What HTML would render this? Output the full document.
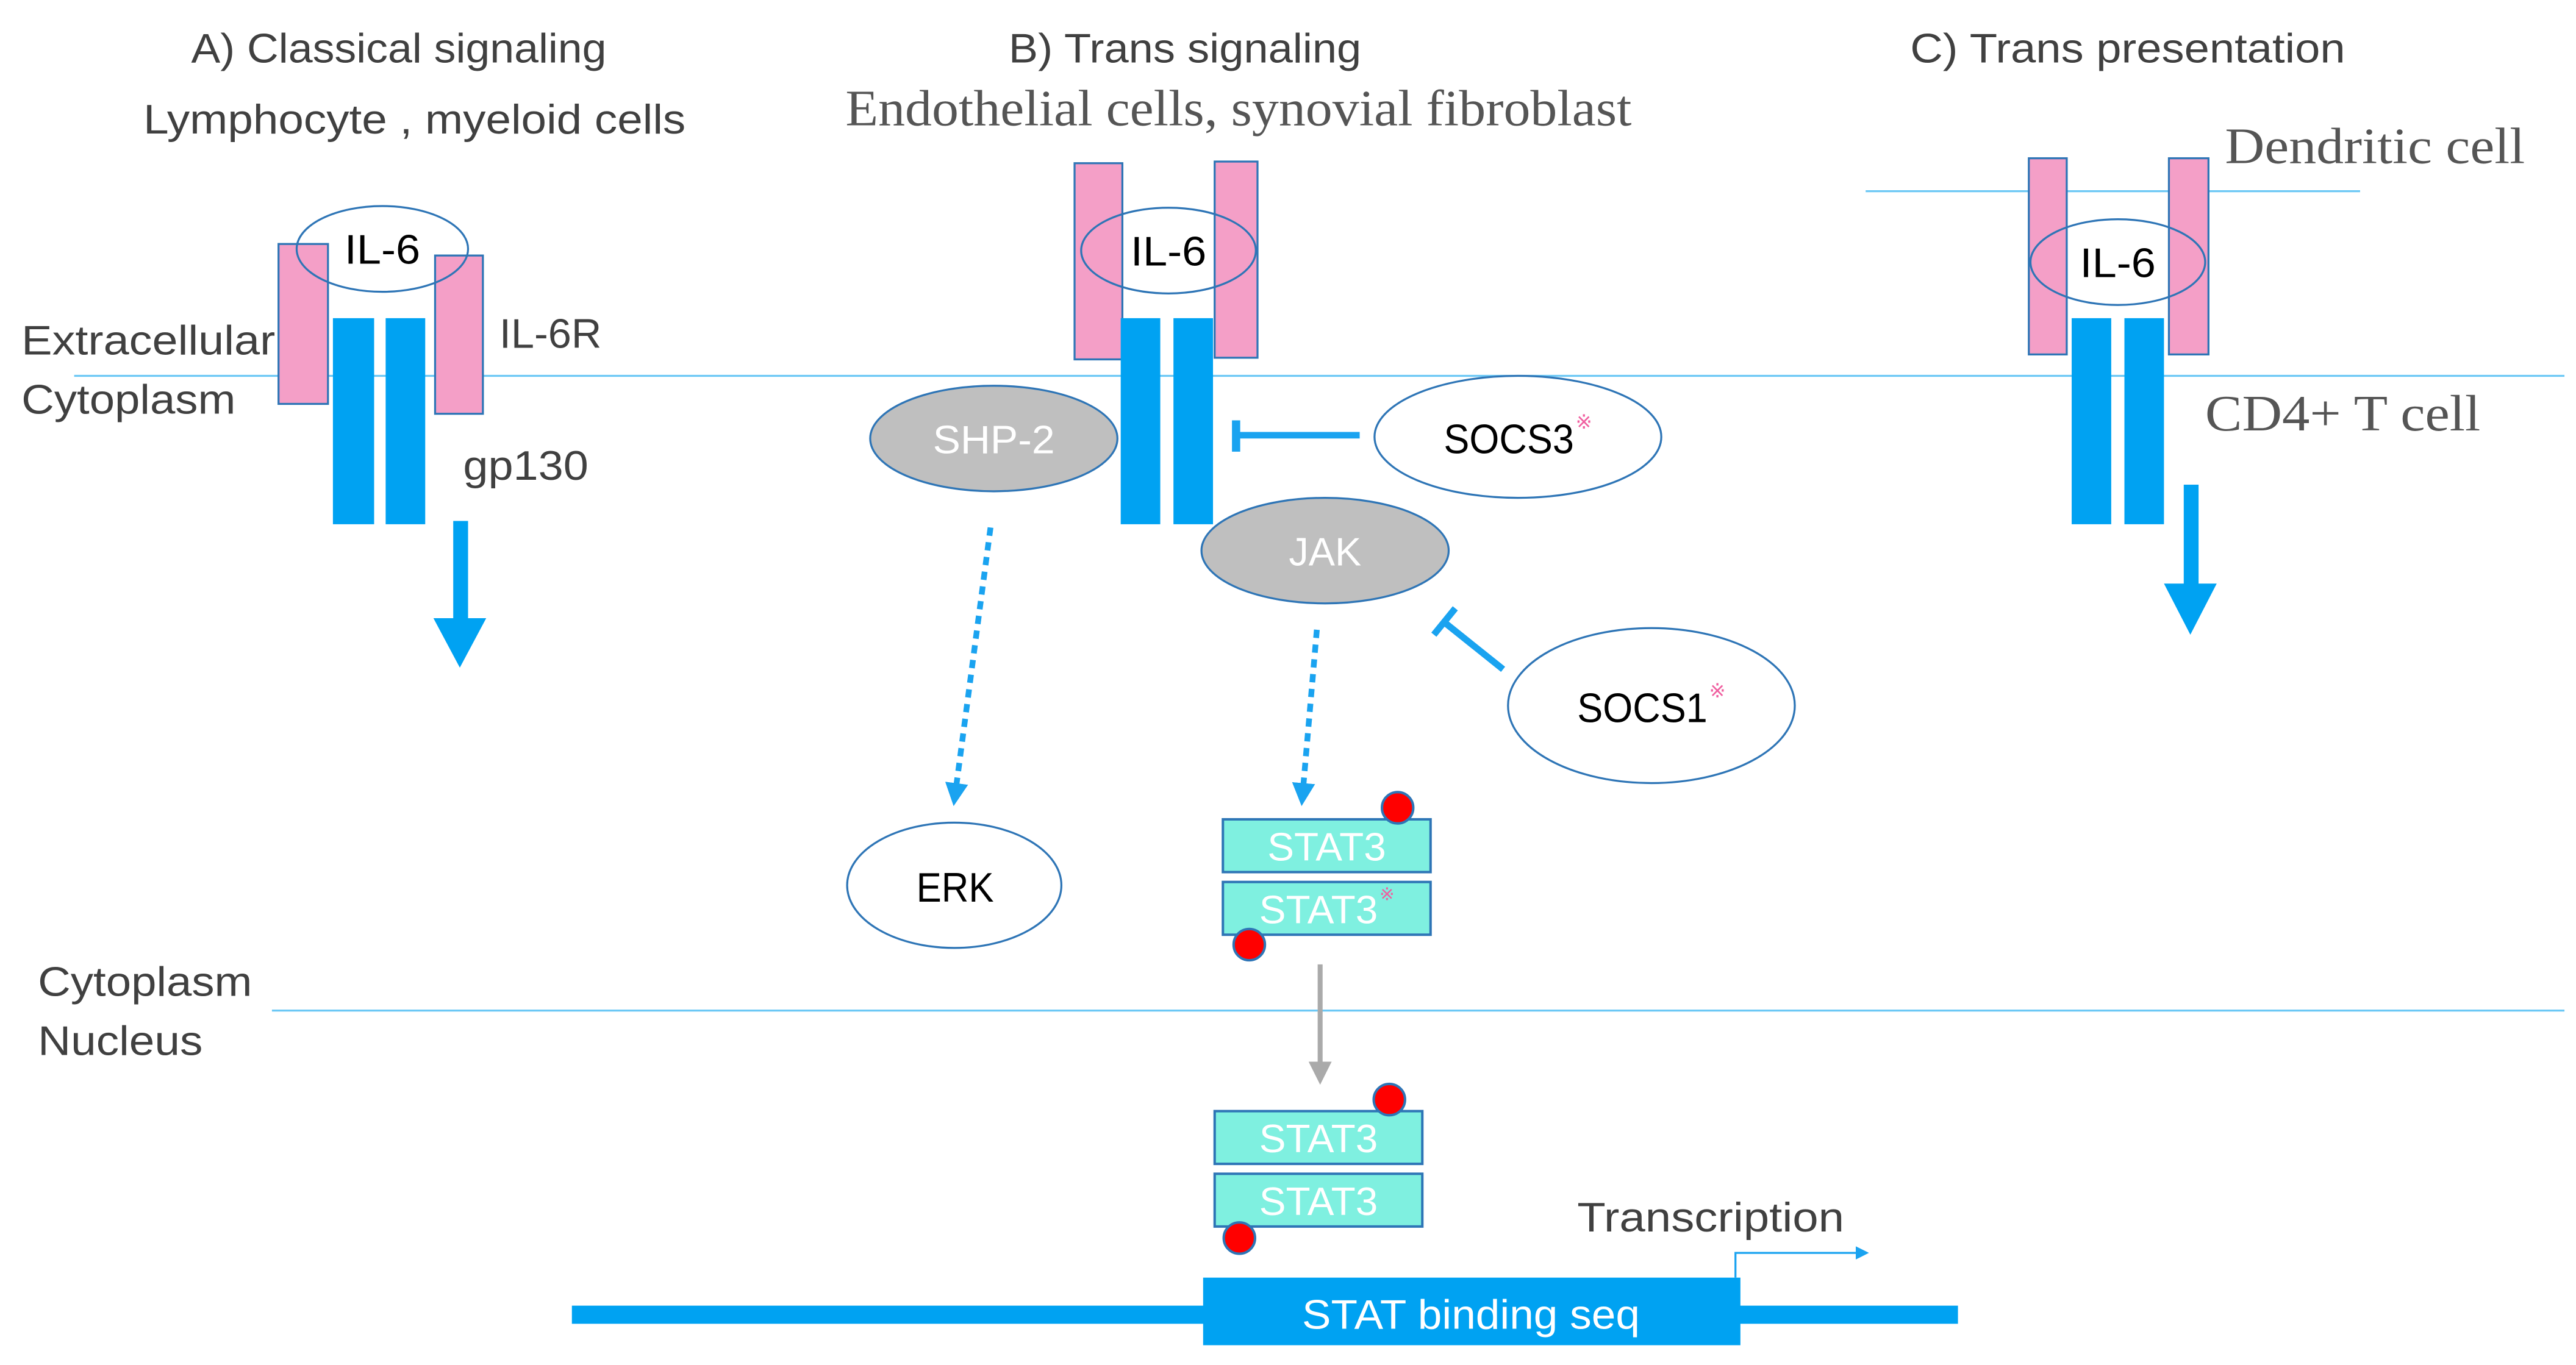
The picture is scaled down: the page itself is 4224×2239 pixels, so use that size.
<!DOCTYPE html>
<html><head><meta charset="utf-8"><style>
html,body{margin:0;padding:0;background:#fff;}
svg{display:block;}
text{font-family:"Liberation Sans",sans-serif;}
.g{fill:#404040;font-size:25px;}
.s{font-family:"Liberation Serif",serif;fill:#555;font-size:31px;}
</style></head><body>
<svg width="4224" height="2239" viewBox="0 0 1563 828" preserveAspectRatio="none" xmlns="http://www.w3.org/2000/svg">
<defs>
<marker id="ab" markerWidth="8" markerHeight="8" refX="6" refY="4" orient="auto" markerUnits="userSpaceOnUse"><path d="M0,0 L8,4 L0,8 z" fill="#1aa3f0"/></marker>
<marker id="ab2" markerWidth="14" markerHeight="14" refX="11" refY="7" orient="auto" markerUnits="userSpaceOnUse"><path d="M0,0 L14,7 L0,14 z" fill="#1aa3f0"/></marker>
<marker id="ag" markerWidth="14" markerHeight="14" refX="11" refY="7" orient="auto" markerUnits="userSpaceOnUse"><path d="M0,0 L14,7 L0,14 z" fill="#aaa"/></marker>
</defs>
<!-- titles -->
<text class="g" x="116" y="38" textLength="252" lengthAdjust="spacingAndGlyphs">A) Classical signaling</text>
<text class="g" x="87" y="81" textLength="329" lengthAdjust="spacingAndGlyphs">Lymphocyte , myeloid cells</text>
<text class="g" x="612" y="38" textLength="214" lengthAdjust="spacingAndGlyphs">B) Trans signaling</text>
<text class="s" x="513" y="76" textLength="477" lengthAdjust="spacingAndGlyphs">Endothelial cells, synovial fibroblast</text>
<text class="g" x="1159" y="38" textLength="264" lengthAdjust="spacingAndGlyphs">C) Trans presentation</text>
<text class="s" x="1350" y="99" textLength="182" lengthAdjust="spacingAndGlyphs">Dendritic cell</text>
<line x1="1132" y1="116" x2="1432" y2="116" stroke="#6cc8f5" stroke-width="1.2"/>
<text class="s" x="1338" y="261" textLength="167" lengthAdjust="spacingAndGlyphs">CD4+ T cell</text>
<!-- membranes -->
<line x1="45" y1="228" x2="1556" y2="228" stroke="#6cc8f5" stroke-width="1.2"/>
<line x1="165" y1="613" x2="1556" y2="613" stroke="#6cc8f5" stroke-width="1.2"/>
<text class="g" x="13" y="215" textLength="154" lengthAdjust="spacingAndGlyphs">Extracellular</text>
<text class="g" x="13" y="251" textLength="130" lengthAdjust="spacingAndGlyphs">Cytoplasm</text>
<text class="g" x="23" y="604" textLength="130" lengthAdjust="spacingAndGlyphs">Cytoplasm</text>
<text class="g" x="23" y="640" textLength="100" lengthAdjust="spacingAndGlyphs">Nucleus</text>
<text class="g" x="303" y="211" textLength="62" lengthAdjust="spacingAndGlyphs">IL-6R</text>
<text class="g" x="281" y="291" textLength="76" lengthAdjust="spacingAndGlyphs">gp130</text>
<!-- A -->
<g stroke="#2e75b6" stroke-width="1.2">
<rect x="169" y="148" width="30" height="97" fill="#f49fc7"/>
<rect x="264" y="155" width="29" height="96" fill="#f49fc7"/>
<rect x="202" y="193" width="25" height="125" fill="#00a2f2" stroke="none"/>
<rect x="234" y="193" width="24" height="125" fill="#00a2f2" stroke="none"/>
<ellipse cx="232" cy="151" rx="52" ry="26" fill="none"/>
</g>
<text x="209" y="160" font-size="25" fill="#000" textLength="46" lengthAdjust="spacingAndGlyphs">IL-6</text>
<rect x="275" y="316" width="9" height="62" fill="#00a2f2"/>
<path d="M263,375 L295,375 L279,405 z" fill="#00a2f2"/>
<!-- B -->
<g stroke="#2e75b6" stroke-width="1.2">
<rect x="652" y="99" width="29" height="119" fill="#f49fc7"/>
<rect x="737" y="98" width="26" height="119" fill="#f49fc7"/>
<rect x="680" y="193" width="24" height="125" fill="#00a2f2" stroke="none"/>
<rect x="712" y="193" width="24" height="125" fill="#00a2f2" stroke="none"/>
<ellipse cx="709" cy="152" rx="53" ry="26" fill="none"/>
<ellipse cx="603" cy="266" rx="75" ry="32" fill="#bfbfbf"/>
<ellipse cx="804" cy="334" rx="75" ry="32" fill="#bfbfbf"/>
<ellipse cx="921" cy="265" rx="87" ry="37" fill="#fff"/>
<ellipse cx="1002" cy="428" rx="87" ry="47" fill="#fff"/>
<ellipse cx="579" cy="537" rx="65" ry="38" fill="#fff"/>
</g>
<text x="686" y="161" font-size="25" fill="#000" textLength="46" lengthAdjust="spacingAndGlyphs">IL-6</text>
<text x="566" y="275" font-size="24" fill="#fff" textLength="74" lengthAdjust="spacingAndGlyphs">SHP-2</text>
<text x="782" y="343" font-size="24" fill="#fff" textLength="44" lengthAdjust="spacingAndGlyphs">JAK</text>
<text x="876" y="275" font-size="25" fill="#000" textLength="79" lengthAdjust="spacingAndGlyphs">SOCS3</text>
<text x="956" y="260" font-size="12" fill="#f060a0">※</text>
<text x="957" y="438" font-size="25" fill="#000" textLength="79" lengthAdjust="spacingAndGlyphs">SOCS1</text>
<text x="1037" y="423" font-size="12" fill="#f060a0">※</text>
<text x="556" y="547" font-size="25" fill="#000" textLength="47" lengthAdjust="spacingAndGlyphs">ERK</text>
<line x1="825" y1="264" x2="752" y2="264" stroke="#1aa3f0" stroke-width="4"/>
<line x1="750" y1="255" x2="750" y2="274" stroke="#1aa3f0" stroke-width="5"/>
<line x1="912" y1="406" x2="877" y2="378" stroke="#1aa3f0" stroke-width="4"/>
<line x1="870" y1="385" x2="883" y2="369" stroke="#1aa3f0" stroke-width="4"/>
<line x1="601" y1="320" x2="579" y2="486" stroke="#1aa3f0" stroke-width="3.5" stroke-dasharray="5,4" marker-end="url(#ab2)"/>
<line x1="799" y1="382" x2="790" y2="486" stroke="#1aa3f0" stroke-width="3.5" stroke-dasharray="5,4" marker-end="url(#ab2)"/>
<!-- STAT3 -->
<g stroke="#2e75b6" stroke-width="1.5">
<rect x="742" y="497" width="126" height="32" fill="#7ff0e0"/>
<rect x="742" y="535" width="126" height="32" fill="#7ff0e0"/>
<rect x="737" y="674" width="126" height="32" fill="#7ff0e0"/>
<rect x="737" y="712" width="126" height="32" fill="#7ff0e0"/>
<circle cx="848" cy="490" r="9.5" fill="#f00"/>
<circle cx="758" cy="573" r="9.5" fill="#f00"/>
<circle cx="843" cy="667" r="9.5" fill="#f00"/>
<circle cx="752" cy="751" r="9.5" fill="#f00"/>
</g>
<text x="769" y="522" font-size="24" fill="#fff" textLength="72" lengthAdjust="spacingAndGlyphs">STAT3</text>
<text x="764" y="560" font-size="24" fill="#fff" textLength="72" lengthAdjust="spacingAndGlyphs">STAT3</text>
<text x="837" y="546" font-size="11" fill="#f060a0">※</text>
<text x="764" y="699" font-size="24" fill="#fff" textLength="72" lengthAdjust="spacingAndGlyphs">STAT3</text>
<text x="764" y="737" font-size="24" fill="#fff" textLength="72" lengthAdjust="spacingAndGlyphs">STAT3</text>
<line x1="801" y1="585" x2="801" y2="655" stroke="#aaa" stroke-width="3" marker-end="url(#ag)"/>
<!-- DNA -->
<rect x="347" y="792" width="841" height="11" fill="#00a2f2"/>
<rect x="730" y="775" width="326" height="41" fill="#00a2f2"/>
<text x="790" y="806" font-size="25" fill="#fff" textLength="205" lengthAdjust="spacingAndGlyphs">STAT binding seq</text>
<text class="g" x="957" y="747" textLength="162" lengthAdjust="spacingAndGlyphs">Transcription</text>
<path d="M1053,775 L1053,760 L1132,760" fill="none" stroke="#1aa3f0" stroke-width="1.2" marker-end="url(#ab)"/>
<!-- C -->
<g stroke="#2e75b6" stroke-width="1.2">
<rect x="1231" y="96" width="23" height="119" fill="#f49fc7"/>
<rect x="1316" y="96" width="24" height="119" fill="#f49fc7"/>
<rect x="1257" y="193" width="24" height="125" fill="#00a2f2" stroke="none"/>
<rect x="1289" y="193" width="24" height="125" fill="#00a2f2" stroke="none"/>
<ellipse cx="1285" cy="159" rx="53" ry="26" fill="none"/>
</g>
<text x="1262" y="168" font-size="25" fill="#000" textLength="46" lengthAdjust="spacingAndGlyphs">IL-6</text>
<rect x="1325" y="294" width="9" height="63" fill="#00a2f2"/>
<path d="M1313,354 L1345,354 L1329,385 z" fill="#00a2f2"/>
</svg>
</body></html>
